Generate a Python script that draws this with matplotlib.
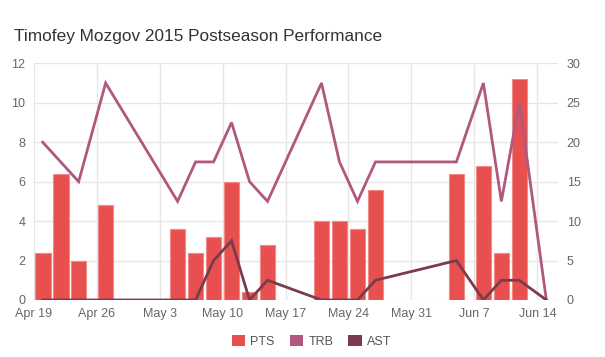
import matplotlib
matplotlib.use("Agg")
import matplotlib.pyplot as plt
import matplotlib.dates as mdates
import numpy as np
import pandas as pd
from matplotlib.patches import Patch

plt.rcParams['font.family'] = ['Liberation Sans', 'DejaVu Sans']

game_dates = ["2015-04-19", "2015-04-21", "2015-04-23", "2015-04-26",
              "2015-05-04", "2015-05-06", "2015-05-08", "2015-05-10", "2015-05-12", "2015-05-14",
              "2015-05-20", "2015-05-22", "2015-05-24", "2015-05-26",
              "2015-06-04", "2015-06-07", "2015-06-09", "2015-06-11", "2015-06-14"]
pts = [6, 16, 5, 12, 9, 6, 8, 15, 1, 7, 10, 10, 9, 14, 16, 17, 6, 28, 0]
trb = [8, 7, 6, 11, 5, 7, 7, 9, 6, 5, 11, 7, 5, 7, 7, 11, 5, 10, 0]
ast = [0, 0, 0, 0, 0, 0, 2, 3, 0, 1, 0, 0, 0, 1, 2, 0, 1, 1, 0]
tick_labels = ["Apr 19", "Apr 26", "May 3", "May 10", "May 17", "May 24", "May 31", "Jun 7", "Jun 14"]
title = "Timofey Mozgov 2015 Postseason Performance"

c_pts = "#e8504f"
c_trb = "#b0587f"
c_ast = "#7a3b4c"
grid_c = "#e6e6e6"
text_c = "#666666"

# points are drawn one day after the game date (timezone shift in the original)
x = pd.to_datetime(game_dates) + pd.Timedelta(days=1)
xn = mdates.date2num(x)

fig = plt.figure(figsize=(6.05, 3.57), dpi=100)
ax = fig.add_axes([0.0557, 0.1597, 0.8671, 0.663])
ax2 = ax.twinx()

# bars on right axis (behind), lines on left axis (front)
ax.set_zorder(ax2.get_zorder() + 1)
ax.patch.set_visible(False)

ax2.bar(xn, pts, width=1.74, color=c_pts, edgecolor="#f08a89", linewidth=0.8, zorder=2)
ax.plot(xn, trb, color=c_trb, lw=2, zorder=3, solid_joinstyle='miter')
ax.plot(xn, ast, color=c_ast, lw=2, zorder=3, solid_joinstyle='miter')

start = mdates.date2num(pd.Timestamp("2015-04-19"))
ax.set_xlim(start, start + 58.33)
ax2.set_xlim(start, start + 58.33)
ax.set_ylim(0, 12)
ax2.set_ylim(0, 30)

ticks = [start + 7 * i for i in range(len(tick_labels))]
ax.set_xticks(ticks)
ax.set_xticklabels(tick_labels)
ax.set_yticks(np.arange(0, 13, 2))
ax2.set_yticks(np.arange(0, 31, 5))

for a in (ax, ax2):
    for s in a.spines.values():
        s.set_visible(False)
    a.tick_params(length=0, colors=text_c, labelsize=9)

ax.tick_params(axis='x', pad=6)
ax.tick_params(axis='y', pad=6)
ax2.tick_params(axis='y', pad=6)

# grid drawn on the back axis so bars sit on top
ax2.set_axisbelow(True)
for v in np.arange(0, 13, 2):
    ax2.axhline(v * 2.5, color=grid_c, lw=1, zorder=0)
for t in ticks:
    ax2.axvline(t, color=grid_c, lw=1, zorder=0)

fig.text(0.023, 0.897, title, fontsize=12.4, color="#333333", ha='left', va='center')

handles = [Patch(facecolor=c_pts, label="PTS"),
           Patch(facecolor=c_trb, label="TRB"),
           Patch(facecolor=c_ast, label="AST")]
fig.legend(handles=handles, loc='center', bbox_to_anchor=(0.515, 0.043), ncol=3,
           frameon=False, fontsize=9, handlelength=1.1, handleheight=0.95,
           handletextpad=0.4, columnspacing=1.2, labelcolor="#555555")

fig.savefig("out.png", dpi=100)
